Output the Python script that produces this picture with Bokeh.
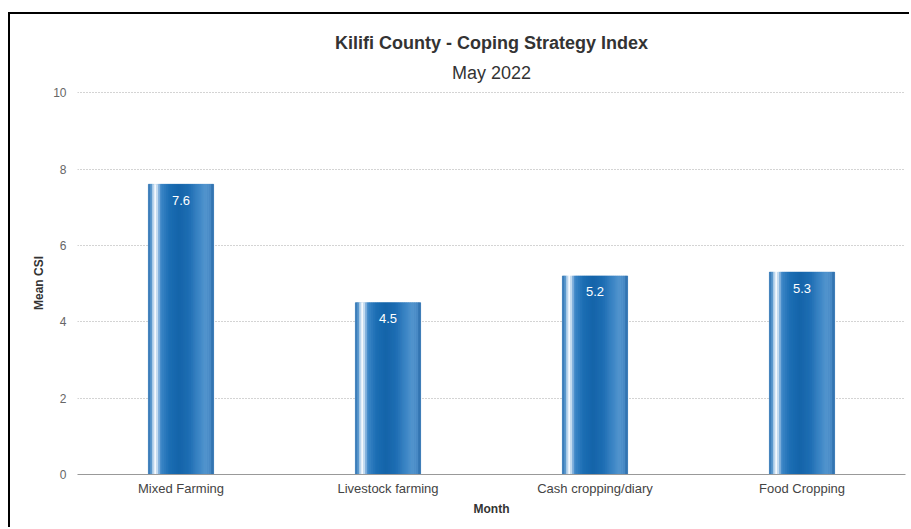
from bokeh.plotting import figure
from bokeh.models import Title, FactorRange
from bokeh.transform import dodge
from bokeh.core.properties import value
from bokeh.embed import file_html
from bokeh.resources import INLINE

# ---- data ----
categories = ["Mixed Farming", "Livestock farming", "Cash cropping/diary", "Food Cropping"]
mean_csi = [7.6, 4.5, 5.2, 5.3]
labels = ["7.6", "4.5", "5.2", "5.3"]
y_ticks = [0, 2, 4, 6, 8, 10]

FONT = "Liberation Sans"

# page frame offsets (black border at left/top as in reference)
OX, OY, BW = 8, 12, 2

p = figure(x_range=FactorRange(*categories), y_range=(0, 10.03),
           width=911 - OX - BW, height=529 - OY - BW, output_backend="svg", toolbar_location=None,
           min_border_left=77 - OX - BW, min_border_right=6, min_border_top=91 - OY - BW,
           min_border_bottom=55)
p.styles = {"margin-left": f"{OX}px", "margin-top": f"{OY}px",
            "border-left": f"{BW}px solid black", "border-top": f"{BW}px solid black"}
p.outline_line_color = None
p.background_fill_color = "white"
p.border_fill_color = "white"

# titles
sub = Title(text="May 2022", align="center", text_font=FONT, text_font_size="18px",
            text_font_style="normal", text_color="#333333", standoff=17)
main = Title(text="Kilifi County - Coping Strategy Index", align="center", text_font=FONT,
             text_font_size="18px", text_font_style="bold", text_color="#333333", standoff=0,
             offset=0)
p.add_layout(sub, "above")
p.add_layout(main, "above")

# bar gradient (style): cylinder-like shading
stops = [(0.00, "#2d6fae"), (0.05, "#5e9bd0"), (0.09, "#e3eff9"), (0.12, "#ffffff"),
         (0.15, "#a9cbe9"), (0.20, "#3d87c8"), (0.32, "#1d6fb4"), (0.47, "#1565aa"),
         (0.62, "#1e6db3"), (0.76, "#3a84c4"), (0.88, "#5597d0"), (0.95, "#4b8cc6"),
         (1.00, "#2a6aa8")]

def hex2rgb(h):
    return tuple(int(h[i:i + 2], 16) for i in (1, 3, 5))

def color_at(t):
    for (t0, c0), (t1, c1) in zip(stops[:-1], stops[1:]):
        if t0 <= t <= t1:
            a = (t - t0) / (t1 - t0) if t1 > t0 else 0
            r0, g0, b0 = hex2rgb(c0)
            r1, g1, b1 = hex2rgb(c1)
            return "#%02x%02x%02x" % (round(r0 + (r1 - r0) * a), round(g0 + (g1 - g0) * a), round(b0 + (b1 - b0) * a))
    return stops[-1][1]

bar_w = 0.315
n = 32
sw = bar_w / n
src = dict(cat=categories, val=mean_csi, lab=labels)
# base bar underneath to avoid seams
p.vbar(x="cat", top="val", bottom=0, width=bar_w, source=src, fill_color="#1d6fb4", line_color=None)
for i in range(n):
    t = (i + 0.5) / n
    off = -bar_w / 2 + (i + 0.5) * sw
    p.vbar(x=dodge("cat", off, range=p.x_range), top="val", bottom=0, width=sw,
           source=src, fill_color=color_at(t), line_color=color_at(t), line_width=0.6)

p.text(x="cat", y="val", text="lab", source=src, text_color="white",
       text_font=value(FONT), text_font_size="13px", text_align="center",
       text_baseline="middle", y_offset=16)

# axes
p.xaxis.axis_line_color = "#999999"
p.xaxis.major_tick_line_color = None
p.xaxis.minor_tick_line_color = None
p.xaxis.major_label_text_font = FONT
p.xaxis.major_label_text_font_size = "13px"
p.xaxis.major_label_text_color = "#444444"
p.xaxis.major_label_standoff = 0
p.xaxis.axis_label = "Month"
p.xaxis.axis_label_text_font = FONT
p.xaxis.axis_label_text_font_size = "12px"
p.xaxis.axis_label_text_font_style = "bold"
p.xaxis.axis_label_text_color = "#333333"
p.xaxis.axis_label_standoff = 3

p.yaxis.ticker = y_ticks
p.yaxis.axis_line_color = None
p.yaxis.major_tick_line_color = None
p.yaxis.minor_tick_line_color = None
p.yaxis.major_label_text_font = FONT
p.yaxis.major_label_text_font_size = "12px"
p.yaxis.major_label_text_color = "#666666"
p.yaxis.major_label_standoff = 5
p.yaxis.axis_label = "Mean CSI"
p.yaxis.axis_label_text_font = FONT
p.yaxis.axis_label_text_font_size = "12px"
p.yaxis.axis_label_text_font_style = "bold"
p.yaxis.axis_label_text_color = "#333333"
p.yaxis.axis_label_standoff = 4

p.xgrid.grid_line_color = None
p.ygrid.grid_line_color = "#a8a8a8"
p.ygrid.grid_line_dash = "1 2"
p.ygrid.grid_line_width = 1

open("out.html", "w").write(file_html(p, INLINE))
